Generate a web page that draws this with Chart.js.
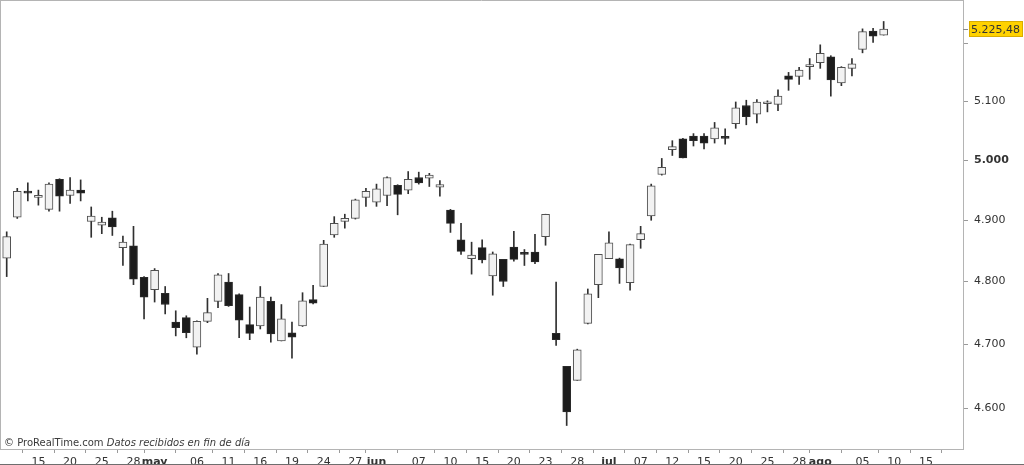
<!DOCTYPE html>
<html>
<head>
<meta charset="utf-8">
<script src="https://cdn.jsdelivr.net/npm/chart.js@4.4.0/dist/chart.umd.min.js"></script>
<style>
  html, body { margin: 0; padding: 0; background: #fff; }
  #wrap { position: relative; width: 1024px; height: 465px; }
</style>
</head>
<body>
<div id="wrap"><canvas id="chart" width="1024" height="465"></canvas></div>
<script>
// daily candles, one per trading session
const opens  = [4838,4905,4948,4938,4918,4968,4941,4950,4898,4892,4904,4855,4858,4807,4787,4781,4735,4742,4695,4736,
                4768,4799,4779,4731,4729,4768,4705,4718,4729,4771,4792,4876,4898,4903,4938,4930,4941,4958,4950,4971,
                4970,4955,4917,4868,4837,4855,4809,4836,4856,4845,4848,4873,4717,4665,4643,4733,4795,4837,4837,4798,
                4868,4907,4976,5018,5036,5041,5041,5036,5039,5062,5093,5078,5096,5095,5144,5143,5160,5167,5177,5132,
                5157,5190,5222,5215];
const highs  = [4881,4953,4962,4950,4962,4969,4971,4967,4922,4905,4915,4874,4890,4808,4821,4792,4753,4745,4737,4773,
                4813,4813,4780,4759,4792,4775,4763,4735,4782,4794,4867,4906,4910,4935,4953,4960,4972,4959,4981,4980,
                4978,4966,4918,4895,4864,4868,4848,4836,4882,4852,4877,4910,4799,4665,4692,4788,4844,4881,4838,4861,
                4890,4960,5003,5033,5037,5045,5045,5064,5053,5099,5102,5103,5101,5120,5150,5159,5174,5198,5179,5160,
                5174,5226,5227,5239];
const lows   = [4808,4903,4932,4925,4915,4915,4928,4932,4872,4878,4875,4826,4795,4740,4767,4748,4713,4710,4684,4734,
                4758,4760,4710,4707,4724,4703,4705,4678,4728,4764,4792,4872,4887,4902,4923,4923,4924,4909,4944,4960,
                4956,4940,4880,4844,4812,4830,4778,4792,4833,4826,4829,4859,4698,4573,4643,4732,4774,4837,4797,4786,
                4854,4900,4975,5008,5004,5024,5019,5029,5027,5054,5060,5063,5082,5084,5119,5129,5138,5157,5109,5127,
                5144,5184,5202,5215];
const closes = [4873,4948,4945,4940,4960,4940,4950,4945,4907,4897,4889,4864,4804,4775,4818,4763,4726,4718,4736,4750,
                4811,4761,4738,4717,4775,4716,4740,4711,4769,4765,4861,4895,4903,4934,4948,4952,4971,4943,4968,4962,
                4975,4959,4895,4849,4843,4835,4845,4800,4836,4844,4832,4910,4707,4594,4691,4780,4844,4863,4822,4860,
                4878,4957,4988,5023,5004,5033,5029,5055,5037,5089,5074,5099,5097,5109,5138,5154,5161,5183,5137,5159,
                5165,5221,5213,5225.48];

// x axis: day labels every third session, month names on the first session of the month
const dayTicks    = [3,6,9,12,18,21,24,27,30,33,39,42,45,48,51,54,60,63,66,69,72,75,81,84,87];
const dayLabels   = ["15","20","25","28","06","11","16","19","24","27","07","10","15","20","23","28","07","12","15","20","25","28","05","10","15"];
const monthTicks  = [14,35,57,77];
const monthLabels = ["may","jun","jul","ago"];

// y axis
const priceTicks = [4600,4700,4800,4900,5000,5100,5200];
const boldPrice = 5000;
const hiddenPrice = 5200;
const lastPriceText = "5.225,48";

const FONT = "'DejaVu Sans', Verdana, sans-serif";
const fmt = (v) => String(v).replace(/\B(?=(\d{3})+(?!\d))/g, ".");

const up = closes.map((c, i) => c >= opens[i]);

const xTicks = dayTicks.concat(monthTicks).sort((a, b) => a - b);
function xLabel(v) {
  let k = monthTicks.indexOf(v);
  if (k >= 0) return monthLabels[k];
  k = dayTicks.indexOf(v);
  return k >= 0 ? dayLabels[k] : "";
}

function noPad(s) {
  s.paddingTop = 0; s.paddingBottom = 0; s.paddingLeft = 0; s.paddingRight = 0;
}

const extras = {
  id: "extras",
  afterDraw(chart) {
    const { ctx, chartArea: a, scales } = chart;
    ctx.save();
    // frame top + left
    ctx.strokeStyle = "#b4b4b4";
    ctx.lineWidth = 1;
    ctx.beginPath();
    ctx.moveTo(0, 0.5); ctx.lineTo(a.right, 0.5);
    ctx.moveTo(0.5, 0); ctx.lineTo(0.5, a.bottom);
    ctx.stroke();
    // outer bottom line
    ctx.strokeStyle = "#6e6e6e";
    ctx.beginPath();
    ctx.moveTo(0, 464.5); ctx.lineTo(1024, 464.5);
    ctx.stroke();

    // watermark
    ctx.fillStyle = "#3a3a3a";
    ctx.textBaseline = "alphabetic";
    ctx.font = "10px " + FONT;
    const t1 = "\u00a9 ProRealTime.com ";
    ctx.fillText(t1, 4, 446);
    const w1 = ctx.measureText(t1).width;
    ctx.font = "italic 10px " + FONT;
    ctx.fillText("Datos recibidos en fin de d\u00eda", 4 + w1, 446);

    // last price box
    const y = Math.round(scales.y.getPixelForValue(closes[closes.length - 1]));
    ctx.strokeStyle = "#8a8a8a";
    ctx.beginPath();
    ctx.moveTo(a.right, y + 0.5); ctx.lineTo(a.right + 5, y + 0.5);
    ctx.stroke();
    ctx.fillStyle = "#ffd200";
    ctx.fillRect(969, y - 8, 54, 16);
    ctx.strokeStyle = "#d9ad00";
    ctx.strokeRect(969.5, y - 7.5, 53, 15);
    ctx.fillStyle = "#333";
    ctx.font = "11px " + FONT;
    ctx.textBaseline = "middle";
    ctx.fillText(lastPriceText, 971, y + 1);
    ctx.restore();
  }
};

new Chart(document.getElementById("chart"), {
  type: "bar",
  data: {
    datasets: [
      {
        label: "body",
        order: 0,
        data: opens.map((o, i) => ({ x: i, y: [Math.min(o, closes[i]), Math.max(o, closes[i])] })),
        backgroundColor: up.map((u) => (u ? "#f2f2f2" : "#1c1c1c")),
        borderColor: up.map((u) => (u ? "#505050" : "#2a2a2a")),
        borderWidth: 1,
        borderSkipped: false,
        minBarLength: 2,
        barThickness: 8,
        grouped: false
      },
      {
        label: "wick",
        order: 1,
        data: lows.map((l, i) => ({ x: i, y: [l, highs[i]] })),
        backgroundColor: "#303030",
        borderWidth: 0,
        barThickness: 1,
        grouped: false
      }
    ]
  },
  options: {
    responsive: false,
    animation: false,
    devicePixelRatio: 1,
    layout: { padding: 0 },
    plugins: { legend: { display: false }, tooltip: { enabled: false } },
    scales: {
      x: {
        type: "linear",
        position: "bottom",
        min: -0.634,
        max: 90.51,
        offset: false,
        grid: { drawOnChartArea: false, drawTicks: true, tickLength: 4, color: "#9a9a9a" },
        border: { display: true, color: "#b4b4b4" },
        ticks: {
          autoSkip: false,
          maxRotation: 0,
          padding: 3,
          color: "#333",
          font: (c) => ({ family: FONT, size: 11, weight: c.tick && monthTicks.includes(c.tick.value) ? "bold" : "normal" }),
          callback: (v) => xLabel(v)
        },
        afterBuildTicks: (s) => { s.ticks = xTicks.map((v) => ({ value: v })); },
        afterFit: (s) => { s.height = 16; noPad(s); }
      },
      y: {
        type: "logarithmic",
        position: "right",
        min: 4537,
        max: 5277,
        grid: { drawOnChartArea: false, drawTicks: true, tickLength: 5, color: "#9a9a9a" },
        border: { display: true, color: "#b4b4b4" },
        ticks: {
          padding: 6,
          color: "#333",
          font: (c) => ({ family: FONT, size: 11, weight: c.tick && c.tick.value === boldPrice ? "bold" : "normal" }),
          callback: (v) => (v === hiddenPrice ? "" : fmt(v))
        },
        afterBuildTicks: (s) => { s.ticks = priceTicks.map((v) => ({ value: v })); },
        afterFit: (s) => { s.width = 61; noPad(s); }
      }
    }
  },
  plugins: [extras]
});
</script>
</body>
</html>
